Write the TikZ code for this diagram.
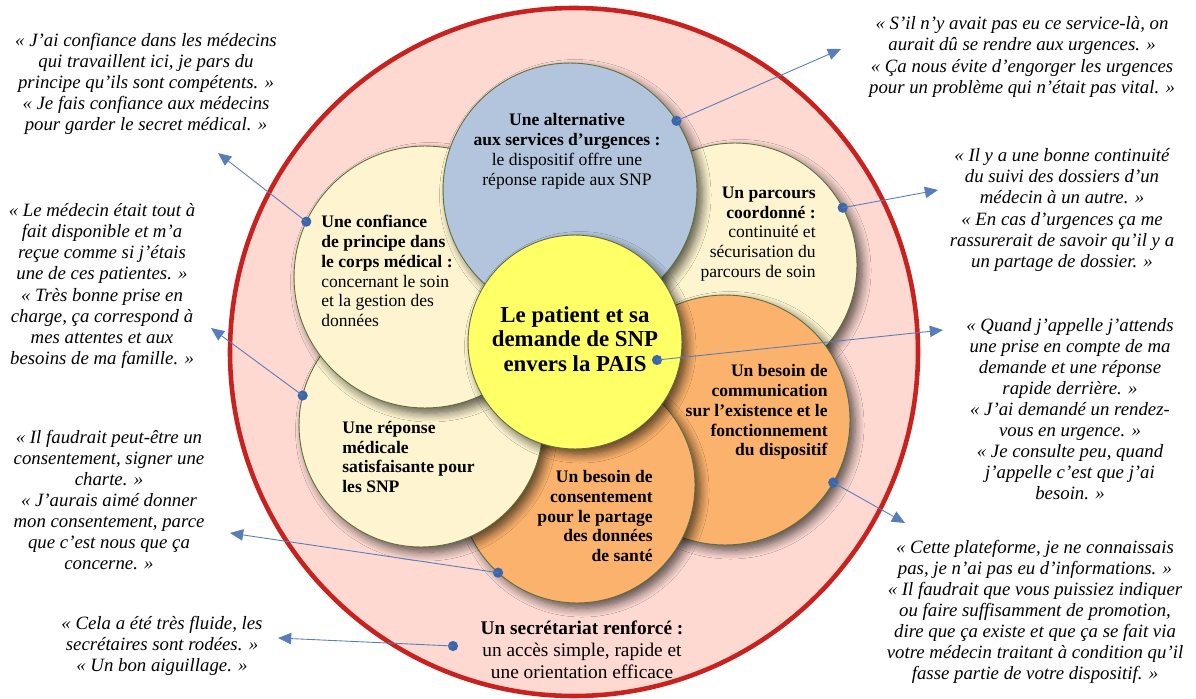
\documentclass[tikz,border=0pt]{standalone}
\usepackage{fontspec}
\setmainfont{Liberation Serif}
\usetikzlibrary{arrows.meta,shadows.blur}

\definecolor{pinkbg}{HTML}{FDD9D2}
\definecolor{ringred}{HTML}{C8211E}
\definecolor{bluebub}{HTML}{B3C5DC}
\definecolor{creambub}{HTML}{FEF5D0}
\definecolor{orangebub}{HTML}{FBB26C}
\definecolor{yellowbub}{HTML}{FFFF66}
\definecolor{bubline}{HTML}{5E6F3C}
\definecolor{linkblue}{HTML}{3A66AC}

\tikzset{
  bubble/.style={circle, draw=bubline, line width=0.5pt, inner sep=0pt, outer sep=0pt,
    minimum size=#1*0.04cm,
    blur shadow={shadow xshift=3pt, shadow yshift=-3pt, shadow blur radius=5pt,
      shadow blur steps=8, shadow opacity=65}},
  quotetext/.style={font=\fontsize{10.7}{12}\selectfont\itshape, align=center, inner sep=0pt},
  bubtext/.style={font=\fontsize{10}{11.3}\selectfont, inner sep=0pt},
  linkdot/.style={circle, fill=linkblue, inner sep=0pt, minimum size=5.8pt},
  link/.style={draw=linkblue!85, line width=0.5pt, -{Triangle[length=7.5pt,width=6.5pt]}}
}

\begin{document}
\begin{tikzpicture}[x=0.02cm, y=-0.02cm]
  \useasboundingbox (0,0) rectangle (1196,699);

  % outer ring
  \draw[ringred, line width=2.6pt, fill=pinkbg] (574,352) circle (344);

  % bubbles, back to front
  \node[bubble=122, fill=creambub]  (parcours)    at (735,265) {};
  \node[bubble=125, fill=orangebub] (commu)       at (725,420) {};
  \node[bubble=118, fill=orangebub] (consent)     at (577,485) {};
  \node[bubble=122, fill=creambub]  (reponse)     at (421,425) {};
  \node[bubble=131, fill=creambub]  (confiance)   at (425,277) {};
  \node[bubble=127, fill=bluebub]   (alternative) at (570,190) {};
  \node[bubble=107, fill=yellowbub] (patient)     at (575,342) {};

  % bubble texts
  \node[bubtext, align=center] (altTxt) at (567,151)
    {\textbf{Une alternative}\\ \textbf{aux services d’urgences :}\\ le dispositif offre une\\ réponse rapide aux SNP};
  \node[bubtext, align=left, anchor=west] (confTxt) at (321,271)
    {\textbf{Une confiance}\\ \textbf{de principe dans}\\ \textbf{le corps médical :}\\ concernant le soin\\ et la gestion des\\ données};
  \node[bubtext, align=right, anchor=east] (parcTxt) at (816,234)
    {\textbf{Un parcours}\\ \textbf{coordonné :}\\ continuité et\\ sécurisation du\\ parcours de soin};
  \node[bubtext, align=left, anchor=west] (repTxt) at (342,457)
    {\textbf{Une réponse}\\ \textbf{médicale}\\ \textbf{satisfaisante pour}\\ \textbf{les SNP}};
  \node[bubtext, align=right, anchor=east] (comTxt) at (828,412)
    {\textbf{Un besoin de}\\ \textbf{communication}\\ \textbf{sur l’existence et le}\\ \textbf{fonctionnement}\\ \textbf{du dispositif}};
  \node[bubtext, align=right, anchor=east] (consTxt) at (653,516)
    {\textbf{Un besoin de}\\ \textbf{consentement}\\ \textbf{pour le partage}\\ \textbf{des données}\\ \textbf{de santé}};
  \node[font=\fontsize{13}{13.8}\selectfont\bfseries, align=center, inner sep=0pt] (patTxt) at (575,339)
    {Le patient et sa\\ demande de SNP\\ envers la PAIS};
  \node[font=\fontsize{11}{12.6}\selectfont, align=center, inner sep=0pt] (secTxt) at (582,650)
    {\textbf{Un secrétariat renforcé :}\\ un accès simple, rapide et\\ une orientation efficace};

  % quotes
  \node[quotetext] (q1) at (146,84)
    {« J’ai confiance dans les médecins\\ qui travaillent ici, je pars du\\ principe qu’ils sont compétents. »\\ « Je fais confiance aux médecins\\ pour garder le secret médical. »};
  \node[quotetext] (q2) at (102,286)
    {« Le médecin était tout à\\ fait disponible et m’a\\ reçue comme si j’étais\\ une de ces patientes. »\\ « Très bonne prise en\\ charge, ça correspond à\\ mes attentes et aux\\ besoins de ma famille. »};
  \node[quotetext] (q3) at (109,500)
    {« Il faudrait peut-être un\\ consentement, signer une\\ charte. »\\ « J’aurais aimé donner\\ mon consentement, parce\\ que c’est nous que ça\\ concerne. »};
  \node[quotetext] (q4) at (162,646)
    {« Cela a été très fluide, les\\ secrétaires sont rodées. »\\ « Un bon aiguillage. »};
  \node[quotetext] (q5) at (1022,57)
    {« S’il n’y avait pas eu ce service-là, on\\ aurait dû se rendre aux urgences. »\\ « Ça nous évite d’engorger les urgences\\ pour un problème qui n’était pas vital. »};
  \node[quotetext] (q6) at (1062,210)
    {« Il y a une bonne continuité\\ du suivi des dossiers d’un\\ médecin à un autre. »\\ « En cas d’urgences ça me\\ rassurerait de savoir qu’il y a\\ un partage de dossier. »};
  \node[quotetext] (q7) at (1070,409)
    {« Quand j’appelle j’attends\\ une prise en compte de ma\\ demande et une réponse\\ rapide derrière. »\\ « J’ai demandé un rendez-\\ vous en urgence. »\\ « Je consulte peu, quand\\ j’appelle c’est que j’ai\\ besoin. »};
  \node[quotetext] (q8) at (1035,612)
    {« Cette plateforme, je ne connaissais\\ pas, je n’ai pas eu d’informations. »\\ « Il faudrait que vous puissiez indiquer\\ ou faire suffisamment de promotion,\\ dire que ça existe et que ça se fait via\\ votre médecin traitant à condition qu’il\\ fasse partie de votre dispositif. »};

  % dots on the bubbles
  \node[linkdot] (dAlt)  at (alternative.33) {};
  \node[linkdot] (dConf) at (confiance.155) {};
  \node[linkdot] (dRep)  at (reponse.166) {};
  \node[linkdot] (dCons) at (consent.228) {};
  \node[linkdot] (dParc) at (parcours.28) {};
  \node[linkdot] (dCom)  at (commu.-30) {};
  \node[linkdot] (dPat)  at (657,360) {};
  \node[linkdot] (dSec)  at (453,646) {};

  % arrow ends next to the quotes
  \coordinate (tAlt)  at (841,49);
  \coordinate (tConf) at (218,153);
  \coordinate (tRep)  at (211,328);
  \coordinate (tCons) at (230,533);
  \coordinate (tSec)  at (278,638);
  \coordinate (tParc) at (938,190);
  \coordinate (tPat)  at (943,330);
  \coordinate (tCom)  at (905,523);

  \foreach \s/\t in {dAlt/tAlt, dConf/tConf, dRep/tRep, dCons/tCons,
                     dSec/tSec, dParc/tParc, dPat/tPat, dCom/tCom}
    \draw[link] (\s.center) -- (\t);
\end{tikzpicture}
\end{document}
